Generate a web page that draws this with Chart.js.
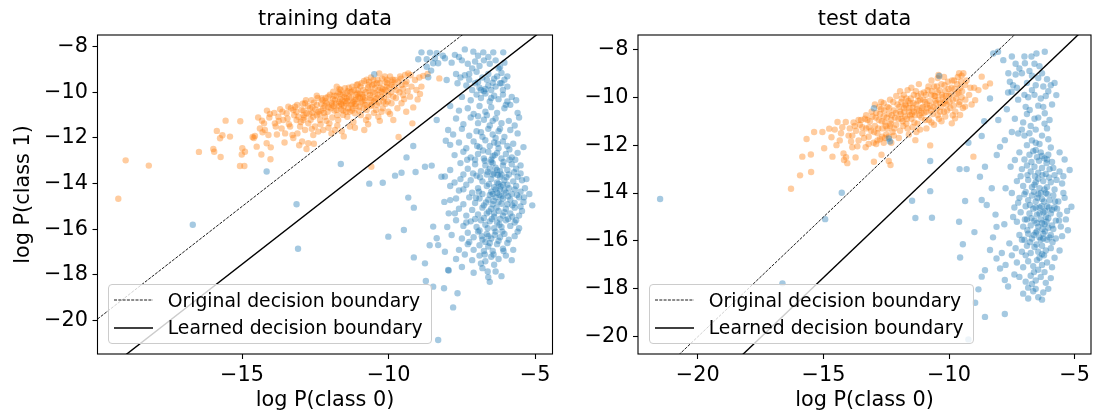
<!DOCTYPE html>
<html>
<head>
<meta charset="utf-8">
<title>decision boundary</title>
<script src="https://cdn.jsdelivr.net/npm/chart.js"></script>
<style>
  body { margin: 0; background: #fff; }
  #wrap { position: relative; width: 1095px; height: 417px; overflow: hidden; font-family: "DejaVu Sans", sans-serif; }
  canvas { position: absolute; top: 0; }
  #trainCanvas { left: 0; }
  #testCanvas { left: 560px; }
  .legend { position: absolute; box-sizing: border-box; border: 1px solid #cccccc; border-radius: 4px;
            background: rgba(255,255,255,0.8); font-size: 18.8px; color: #000; }
  .legend .row { position: absolute; left: 0; height: 24px; display: flex; align-items: center; white-space: nowrap; }
  .legend svg { margin-left: 5px; margin-right: 14.7px; }
</style>
</head>
<body>
<div id="wrap">
  <canvas id="trainCanvas" width="560" height="417"></canvas>
  <canvas id="testCanvas" width="535" height="417"></canvas>
  <div class="legend" id="trainLegend" style="left:108px; top:284px; width:324px; height:60px;"></div>
  <div class="legend" id="testLegend" style="left:649px; top:284px; width:325px; height:60px;"></div>
</div>
<script>
// --- data: [log P(class 0), log P(class 1)] ---
const trainClass1 = [
  [-19.22,-14.66],[-18.97,-12.98],[-18.18,-13.21],[-16.47,-12.61],
  [-15.98,-12.48],[-15.95,-12.6],[-15.86,-11.69],[-15.75,-12.01],[-15.73,-12.83],[-15.56,-11.24],[-15.41,-11.94],[-15.67,-11.88],[-15.07,-13.23],[-15.06,-11.27],[-15.01,-12.72],[-14.99,-12.45],
  [-14.92,-13.23],[-14.9,-12.6],[-14.64,-11.96],[-14.56,-11.91],[-14.6,-12.0],[-14.32,-11.24],[-14.25,-11.36],[-14.34,-12.72],[-14.03,-12.93],[-14.05,-10.95],[-14.02,-12.41],[-14.1,-11.87],[-14.22,-11.65],[-14.39,-11.58],[-14.5,-12.38],[-14.16,-12.23],[-14.07,-11.1],
  [-13.81,-11.85],[-13.7,-10.74],[-13.88,-11.36],[-13.76,-11.07],[-13.59,-11.21],[-13.48,-10.92],[-13.36,-11.5],[-13.28,-11.87],[-13.25,-10.77],[-13.14,-11.21],[-13.08,-11.07],[-13.05,-12.32],[-13.19,-10.63],[-13.42,-10.63],[-13.65,-11.58],[-13.53,-11.8],[-13.02,-11.5],[-13.11,-11.8],
  [-12.8,-12.48],[-12.74,-12.23],[-12.91,-11.21],[-12.85,-10.48],[-12.8,-10.92],[-12.74,-11.36],[-12.68,-10.7],[-12.63,-10.34],[-12.57,-11.07],[-12.51,-11.5],[-12.45,-10.55],[-12.4,-10.85],[-12.34,-11.21],[-12.28,-10.26],[-12.23,-10.7],[-12.17,-11.07],[-12.11,-10.48],[-12.06,-10.19],[-12.02,-11.36],[-12.57,-11.87],[-12.4,-11.72],[-12.23,-11.65],[-12.85,-11.65],[-12.97,-10.77],[-12.6,-10.9],[-12.45,-11.0],[-12.3,-10.5],[-12.2,-10.9],[-12.15,-10.4],[-12.9,-10.8],[-12.75,-10.6],
  [-11.89,-9.97],[-11.83,-10.34],[-11.77,-10.77],[-11.72,-11.21],[-11.66,-10.09],[-11.6,-10.55],[-11.55,-10.99],[-11.49,-9.82],[-11.43,-10.26],[-11.38,-10.7],[-11.32,-11.5],[-11.26,-9.97],[-11.2,-10.41],[-11.15,-10.92],[-11.09,-9.68],[-11.03,-10.19],[-11.0,-10.63],[-11.83,-11.65],[-11.53,-11.93],[-11.94,-10.55],[-11.69,-10.41],[-11.57,-10.09],[-11.45,-10.48],[-11.35,-10.19],[-11.24,-9.75],[-11.11,-10.12],[-11.41,-11.07],[-11.64,-9.9],[-11.77,-9.75],[-11.9,-10.3],[-11.7,-10.6],[-11.5,-10.2],[-11.3,-10.0],[-11.1,-10.3],[-11.45,-10.85],[-11.25,-10.5],[-11.65,-10.3],[-11.85,-10.8],[-11.05,-9.9],
  [-10.83,-11.65],[-10.92,-9.6],[-10.86,-9.9],[-10.81,-10.34],[-10.75,-10.77],[-10.69,-9.68],[-10.64,-10.12],[-10.58,-10.55],[-10.52,-9.46],[-10.47,-9.82],[-10.41,-10.26],[-10.35,-11.07],[-10.3,-9.6],[-10.24,-9.97],[-10.18,-10.41],[-10.13,-9.31],[-10.07,-9.75],[-10.01,-10.12],[-10.59,-13.26],[-10.77,-11.21],[-10.43,-10.77],[-10.2,-10.7],[-10.69,-11.07],[-10.98,-10.26],[-10.32,-9.17],[-10.24,-10.85],[-10.01,-10.85],[-10.9,-10.1],[-10.7,-9.8],[-10.55,-10.0],[-10.4,-9.6],[-10.25,-10.2],[-10.1,-9.55],[-10.6,-10.35],[-10.8,-10.55],[-10.35,-9.9],[-10.15,-10.0],
  [-9.95,-9.31],[-9.9,-9.68],[-9.84,-10.19],[-9.78,-9.46],[-9.73,-9.9],[-9.66,-11.96],[-9.84,-11.21],[-9.61,-9.31],[-9.56,-9.68],[-9.5,-10.12],[-9.44,-9.24],[-9.39,-9.53],[-9.27,-10.19],[-9.19,-11.36],[-9.16,-10.66],[-9.1,-9.46],[-9.01,-10.31],[-9.33,-9.17],[-9.22,-9.75],[-9.7,-10.7],[-9.56,-10.48],[-9.9,-10.48],
  [-8.82,-9.28],[-8.67,-9.2],[-8.27,-9.39],[-8.88,-9.75],[-8.93,-10.07],
  [-13.9,-10.9],[-13.75,-11.25],[-13.62,-10.85],[-13.45,-11.15],[-13.33,-10.7],[-13.22,-11.0],[-13.12,-10.55],[-13.0,-11.3],[-12.93,-10.5],[-12.88,-11.1],[-12.82,-10.35],[-12.7,-10.95],[-12.66,-11.2],[-12.55,-10.45],[-12.5,-10.75],[-12.42,-10.25],[-12.36,-10.95],[-12.32,-11.4],[-12.25,-10.35],[-12.18,-10.6],[-12.12,-11.25],[-12.08,-10.85],[-12.0,-10.1],[-11.97,-10.7],[-11.92,-11.1],[-11.86,-10.15],[-11.8,-10.5],[-11.75,-11.0],[-11.68,-9.85],[-11.62,-10.75],[-11.58,-10.35],[-11.52,-10.6],[-11.47,-10.05],[-11.4,-10.4],[-11.36,-9.8],[-11.33,-10.85],[-11.28,-10.25],[-11.22,-10.7],[-11.18,-9.9],[-11.13,-10.5],[-11.07,-10.05],[-11.02,-10.8],[-10.96,-9.75],[-10.94,-10.45],[-10.88,-10.2],[-10.84,-9.5],[-10.78,-10.0],[-10.73,-10.55],[-10.67,-9.55],[-10.62,-10.25],[-10.56,-9.7],[-10.5,-10.4],[-10.46,-10.05],[-10.38,-9.45],[-10.33,-10.45],[-10.28,-9.8],[-10.22,-9.4],[-10.16,-10.25],[-10.11,-9.9],[-10.05,-9.45],[-10.03,-10.4],[-9.98,-9.8],[-9.92,-10.0],[-9.86,-9.45],[-9.8,-9.75],[-9.75,-10.25],[-9.68,-9.55],[-9.63,-10.0],[-9.58,-9.4],[-9.52,-9.85],[-9.47,-10.3],[-9.42,-9.65],[-9.35,-9.95],[-12.62,-11.6],[-12.05,-11.55],[-11.75,-11.45],[-11.2,-11.3],[-10.95,-11.0],[-10.5,-10.9],[-13.4,-11.4],[-13.85,-11.5],[-14.3,-11.75],[-14.45,-11.1],[-14.15,-10.8],[-13.55,-12.2],[-13.25,-12.0],[-12.95,-12.15],[-12.55,-12.25],[-11.95,-11.8],[-11.6,-11.7],[-11.15,-11.55],[-10.7,-11.4],[-10.3,-11.25],[-9.95,-10.95],[-9.4,-10.85],[-9.05,-9.9],[-8.95,-9.35],[-9.25,-9.25],
  [-12.45,-10.15],[-12.15,-10.25],[-11.95,-10.45],[-11.78,-10.15],[-11.62,-10.5],[-11.48,-10.38],[-11.3,-10.55],[-11.16,-10.35],[-10.98,-10.05],[-10.8,-10.25],[-10.66,-9.95],[-10.5,-9.65],[-10.36,-10.1],[-10.2,-9.85],[-10.05,-9.6],[-9.88,-9.55],[-11.88,-10.6],[-11.55,-10.8],[-11.12,-10.6],[-10.9,-10.4],[-10.6,-10.6],[-10.45,-10.3],[-12.3,-10.8],[-12.6,-10.65],[-12.9,-11.0],[-13.15,-10.85],[-11.4,-9.95],[-11.05,-9.65],[-10.75,-9.45],[-10.6,-9.35],[-11.7,-10.0],[-12.05,-10.65],[-11.25,-10.8],[-10.85,-10.7],[-10.4,-10.55],[-10.1,-10.5]
];

const trainClass0 = [
  [-10.49,-9.21],[-14.16,-13.47],[-13.14,-14.9],[-11.63,-13.14],[-16.68,-15.8],[-13.09,-16.85],[-10.66,-14.0],[-10.2,-13.96],[-10.01,-16.32],[-9.48,-16.03],[-9.78,-13.65],[-9.56,-13.52],[-9.39,-12.85],[-9.16,-12.35],[-9.08,-13.49],[-8.76,-13.26],[-8.53,-13.21],[-9.33,-14.61],[-9.14,-15.05],[-9.14,-17.23],[-8.76,-17.49],[-8.73,-18.26],[-8.48,-18.51],[-8.31,-20.85],[-8.11,-18.58],[-7.8,-19.42],[-7.65,-18.8],[-8.36,-11.21],[-8.65,-9.34],
  [-8.48,-15.88],[-8.36,-16.39],[-8.31,-16.69],[-8.08,-16.98],[-7.97,-17.78],[-7.9,-14.72],[-7.74,-15.3],[-8.08,-13.69],[-8.05,-12.12],[-7.97,-11.65],[-8.2,-13.7],[-8.1,-14.8],[-7.95,-15.3],[-8.0,-15.9],[-7.85,-16.25],[-8.6,-16.7],[-7.95,-17.8],
  [-8.88,-8.25],[-8.59,-8.26],[-8.36,-8.29],[-7.74,-8.36],[-7.4,-8.12],[-7.11,-8.22],[-6.77,-8.25],[-6.43,-8.25],[-6.09,-8.25],[-8.15,-8.4],[-7.6,-8.45],[-6.95,-8.4],[-6.6,-8.45],
  [-8.99,-8.55],[-8.7,-8.55],[-8.42,-8.51],[-8.08,-8.51],[-8.48,-8.73],[-8.31,-8.73],[-8.7,-8.88],[-7.85,-8.7],[-7.5,-8.6],[-7.3,-8.75],[-7.05,-8.65],[-6.9,-8.85],[-6.75,-8.6],[-6.55,-8.75],[-6.35,-8.6],[-6.2,-8.9],[-6.05,-8.7],[-7.15,-8.95],
  [-8.55,-9.05],[-8.02,-9.46],[-7.7,-9.2],[-7.55,-9.35],[-7.4,-9.25],[-7.25,-9.45],[-7.0,-9.1],[-6.8,-9.35],[-6.6,-9.2],[-6.4,-9.4],[-6.3,-9.3],[-6.15,-9.15],[-6.05,-9.45],[-5.95,-9.3],
  [-7.65,-9.6],[-7.35,-9.7],[-7.15,-9.9],[-7.05,-9.6],[-6.9,-9.8],[-6.75,-9.95],[-6.6,-9.7],[-6.5,-9.9],[-6.35,-9.75],[-6.2,-9.6],[-6.1,-9.9],[-5.95,-9.75],[-6.85,-9.9],[-6.7,-9.85],
  [-7.5,-10.2],[-7.2,-10.35],[-7.0,-10.1],[-6.85,-10.25],[-6.7,-10.05],[-6.55,-10.4],[-6.4,-10.15],[-6.25,-10.3],[-6.1,-10.1],[-5.95,-10.4],[-5.8,-10.2],[-5.65,-10.35],
  [-7.9,-10.6],[-7.6,-10.8],[-7.3,-10.7],[-7.1,-10.95],[-6.9,-10.6],[-6.7,-10.85],[-6.5,-10.65],[-6.3,-10.9],[-6.05,-10.7],[-5.85,-10.55],[-5.6,-10.9],
  [-7.7,-11.15],[-7.45,-11.4],[-7.2,-11.1],[-6.95,-11.35],[-6.75,-11.2],[-6.55,-11.45],[-6.35,-11.15],[-6.15,-11.35],[-5.9,-11.25],[-5.7,-11.45],[-5.55,-11.1],
  [-7.8,-11.85],[-7.5,-11.6],[-7.25,-11.9],[-7.0,-11.7],[-6.8,-11.95],[-6.6,-11.6],[-6.45,-11.85],[-6.25,-11.7],[-6.05,-11.95],[-5.85,-11.65],[-5.6,-11.8],
  [-7.9,-12.3],[-7.6,-12.2],[-7.35,-12.45],[-7.1,-12.15],[-6.9,-12.4],[-6.7,-12.1],[-6.55,-12.35],[-6.4,-12.2],[-6.25,-12.45],[-6.1,-12.15],[-5.95,-12.35],[-5.75,-12.25],[-5.4,-12.4],
  [-7.75,-12.75],[-7.45,-12.6],[-7.2,-12.85],[-6.95,-12.7],[-6.75,-12.9],[-6.6,-12.6],[-6.45,-12.8],[-6.3,-12.65],[-6.15,-12.9],[-6.0,-12.7],[-5.8,-12.85],[-5.6,-12.65],
  [-7.9,-13.4],[-7.55,-13.1],[-7.3,-13.35],[-7.05,-13.15],[-6.85,-13.45],[-6.7,-13.2],[-6.55,-13.35],[-6.45,-13.1],[-6.35,-13.3],[-6.2,-13.45],[-6.1,-13.2],[-5.95,-13.4],[-5.8,-13.15],[-5.65,-13.35],[-5.5,-13.2],
  [-7.75,-13.95],[-7.45,-13.6],[-7.2,-13.85],[-7.0,-13.65],[-6.8,-13.9],[-6.65,-13.6],[-6.5,-13.8],[-6.4,-13.55],[-6.3,-13.95],[-6.2,-13.7],[-6.05,-13.85],[-5.9,-13.6],[-5.75,-13.9],[-5.6,-13.7],[-5.45,-13.85],[-5.3,-13.8],
  [-7.9,-14.1],[-7.6,-14.3],[-7.35,-14.05],[-7.15,-14.4],[-6.95,-14.2],[-6.8,-14.45],[-6.65,-14.1],[-6.5,-14.35],[-6.4,-14.15],[-6.3,-14.4],[-6.2,-14.25],[-6.1,-14.05],[-6.0,-14.4],[-5.9,-14.2],[-5.8,-14.45],[-5.65,-14.1],[-5.5,-14.35],[-5.35,-14.2],[-5.2,-14.45],
  [-7.7,-14.65],[-7.45,-14.9],[-7.25,-14.6],[-7.05,-14.85],[-6.9,-14.65],[-6.75,-14.95],[-6.6,-14.7],[-6.45,-14.9],[-6.35,-14.6],[-6.25,-14.8],[-6.1,-14.65],[-5.95,-14.9],[-5.85,-14.7],[-5.7,-14.85],[-5.55,-14.6],[-5.4,-14.8],[-5.1,-14.95],
  [-7.6,-15.1],[-7.35,-15.4],[-7.15,-15.15],[-6.95,-15.35],[-6.8,-15.05],[-6.65,-15.3],[-6.5,-15.1],[-6.4,-15.45],[-6.25,-15.2],[-6.1,-15.4],[-6.0,-15.1],[-5.85,-15.3],[-5.7,-15.05],[-5.55,-15.4],[-5.45,-15.2],
  [-7.7,-15.6],[-7.45,-15.85],[-7.2,-15.65],[-7.0,-15.9],[-6.85,-15.6],[-6.7,-15.8],[-6.55,-15.65],[-6.4,-15.95],[-6.3,-15.7],[-6.15,-15.9],[-6.0,-15.6],[-5.85,-15.85],[-5.7,-15.7],[-5.55,-15.95],
  [-7.5,-16.4],[-7.3,-16.15],[-7.1,-16.35],[-6.95,-16.1],[-6.8,-16.45],[-6.65,-16.2],[-6.5,-16.4],[-6.35,-16.1],[-6.2,-16.35],[-6.05,-16.2],[-5.9,-16.45],[-5.7,-16.3],
  [-7.6,-16.9],[-7.3,-16.65],[-7.1,-16.9],[-6.9,-16.7],[-6.75,-16.95],[-6.6,-16.75],[-6.45,-16.95],[-6.3,-16.65],[-6.1,-16.85],[-5.95,-16.6],[-5.75,-16.9],
  [-7.7,-17.3],[-7.4,-17.1],[-7.15,-17.35],[-6.9,-17.15],[-6.7,-17.4],[-6.5,-17.2],[-6.25,-17.3],[-6.0,-17.15],[-5.8,-17.35],
  [-7.5,-17.65],[-7.1,-17.9],[-6.8,-17.7],[-6.6,-18.1],[-6.35,-17.85],[-6.15,-18.05],[-6.55,-18.3],
  [-6.45,-13.6],[-6.25,-14.0],[-6.15,-14.55],[-6.35,-14.25],[-6.55,-14.5],[-6.05,-14.3],[-6.3,-13.4],[-6.5,-13.05],[-6.7,-16.55],[-6.6,-16.3],[-6.4,-15.3],[-6.2,-15.55],[-6.5,-12.95],[-6.15,-13.6],
  [-6.72,-13.0],[-6.38,-12.75],[-6.08,-13.05],[-5.88,-12.95],[-6.62,-13.48],[-6.28,-13.62],[-5.98,-13.72],[-5.72,-13.5],[-6.88,-13.72],[-6.58,-14.02],[-6.18,-14.12],[-5.95,-14.05],[-5.7,-14.25],[-6.92,-14.35],[-6.45,-14.45],[-6.22,-14.5],[-5.92,-14.55],[-5.62,-14.5],[-6.68,-14.82],[-6.42,-14.75],[-6.15,-14.88],[-5.78,-14.95],[-6.58,-15.22],[-6.32,-15.05],[-6.05,-15.25],[-5.78,-15.45],[-6.75,-15.5],[-6.48,-15.55],[-6.22,-15.8],[-5.92,-15.55],[-6.62,-15.95],[-6.38,-16.25],[-6.12,-16.1],[-6.82,-16.3],[-6.55,-16.6],[-6.25,-16.5],[-6.9,-16.05],[-6.72,-17.1],[-6.42,-17.1],[-6.08,-16.95],[-7.02,-14.62],[-7.12,-13.55],[-7.32,-12.95],[-6.98,-12.35],[-6.78,-12.55],[-6.28,-12.25],[-5.88,-12.5],[-5.68,-12.95],[-5.5,-13.55],[-5.38,-14.6],[-5.5,-15.0],[-5.65,-15.6],[-5.6,-16.1],[-7.45,-14.25],[-7.55,-13.8],[-7.35,-15.7],[-7.25,-16.55],[-7.05,-15.55],[-6.85,-17.5],[-6.4,-17.55],[-6.62,-17.85],[-6.95,-11.05],[-6.65,-11.0],[-6.45,-11.25],[-6.2,-11.6],[-6.35,-12.0],[-6.85,-11.75],[-7.05,-12.95],[-6.15,-9.6],[-6.45,-9.58],[-6.65,-9.45],[-6.95,-9.55],[-7.25,-9.2],[-6.25,-8.95],[-6.5,-10.25],[-6.0,-10.55]
];

const testClass1 = [
  [-16.29,-13.82],[-15.93,-13.26],[-15.49,-13.12],[-15.84,-12.48],[-15.5,-12.39],[-15.67,-11.74],[-15.37,-11.45],[-15.04,-11.45],[-14.77,-11.31],[-14.68,-11.67],[-14.97,-12.13],[-14.64,-12.48],[-14.48,-12.0],[-14.44,-11.03],[-14.11,-11.03],[-14.18,-12.62],[-14.1,-12.5],[-14.05,-12.75],[-13.85,-12.09],[-13.72,-12.51],[-13.32,-12.09],[-12.99,-12.69],[-12.69,-12.4],[-12.4,-12.66],[-12.33,-12.83],[-12.66,-11.65],[-12.4,-11.65],[-10.75,-12.01],[-9.03,-12.48],[-11.34,-11.79],[-14.2,-12.35],[-14.3,-11.5],[-14.55,-11.35],[-14.35,-11.8],
  [-9.36,-9.49],[-8.83,-9.7],[-8.7,-9.14],[-8.37,-9.42],[-8.96,-10.12],[-9.36,-10.39],[-9.56,-10.74],[-9.89,-11.09],[-9.76,-10.88],[-9.2,-9.9],[-9.0,-9.6],
  [-13.95,-11.3],[-13.85,-11.6],[-13.8,-11.05],[-13.7,-11.4],[-13.6,-11.8],[-13.55,-11.15],[-13.45,-11.5],[-13.35,-10.9],[-13.3,-11.3],[-13.2,-11.65],[-13.15,-11.0],[-13.1,-11.4],[-13.05,-10.8],[-13.0,-11.9],[-13.9,-11.85],[-13.5,-10.95],
  [-12.95,-11.2],[-12.9,-10.65],[-12.85,-11.5],[-12.8,-10.95],[-12.75,-11.75],[-12.7,-10.5],[-12.65,-11.3],[-12.6,-10.8],[-12.55,-11.05],[-12.5,-11.55],[-12.45,-10.4],[-12.4,-10.7],[-12.35,-11.2],[-12.3,-10.95],[-12.25,-11.45],[-12.2,-10.55],[-12.15,-10.85],[-12.1,-11.15],[-12.05,-10.3],[-12.0,-11.7],[-12.9,-11.95],[-12.6,-11.9],[-12.3,-11.9],[-12.75,-10.7],[-12.45,-11.3],[-12.1,-9.95],[-12.35,-10.1],[-11.95,-9.75],[-12.7,-10.2],[-11.65,-9.7],
  [-11.95,-10.6],[-11.9,-10.2],[-11.85,-11.0],[-11.8,-10.45],[-11.75,-10.8],[-11.7,-10.05],[-11.65,-11.3],[-11.6,-10.6],[-11.55,-10.25],[-11.5,-10.9],[-11.45,-10.45],[-11.4,-9.9],[-11.35,-10.75],[-11.3,-10.3],[-11.25,-11.1],[-11.2,-10.55],[-11.15,-10.1],[-11.1,-10.85],[-11.05,-10.4],[-11.0,-9.8],[-11.95,-11.4],[-11.6,-11.55],[-11.3,-11.45],[-11.9,-10.9],[-11.4,-10.6],[-11.75,-10.3],[-11.1,-10.65],[-11.55,-10.75],[-11.25,-9.95],[-11.8,-9.9],[-11.5,-9.6],[-11.2,-9.45],
  [-10.95,-10.2],[-10.9,-10.6],[-10.85,-9.7],[-10.8,-10.95],[-10.75,-10.35],[-10.7,-9.9],[-10.65,-10.7],[-10.6,-9.55],[-10.55,-10.15],[-10.5,-10.5],[-10.45,-9.8],[-10.4,-10.9],[-10.35,-10.25],[-10.3,-9.45],[-10.25,-10.0],[-10.2,-10.6],[-10.15,-9.75],[-10.1,-10.3],[-10.05,-9.35],[-10.0,-9.95],[-10.9,-11.3],[-10.6,-11.15],[-10.3,-11.0],[-10.7,-9.3],[-10.45,-9.2],[-10.2,-9.15],[-10.85,-10.45],[-10.55,-9.95],[-10.35,-10.6],[-10.15,-10.15],
  [-9.95,-10.45],[-9.9,-9.6],[-9.85,-10.1],[-9.8,-9.3],[-9.75,-10.6],[-9.7,-9.85],[-9.65,-9.15],[-9.6,-10.3],[-9.55,-9.6],[-9.5,-10.0],[-9.5,-9.1],[-9.45,-10.45],[-9.6,-9.0],[-10.42,-9.07],[-9.43,-9.0],
  [-13.75,-11.2],[-13.6,-10.95],[-13.45,-11.25],[-13.38,-11.7],[-13.25,-10.95],[-13.18,-11.25],[-13.08,-10.6],[-12.98,-11.45],[-12.92,-10.85],[-12.82,-11.3],[-12.78,-10.4],[-12.68,-11.0],[-12.58,-10.55],[-12.52,-11.2],[-12.48,-10.85],[-12.38,-10.45],[-12.32,-11.1],[-12.28,-10.75],[-12.22,-10.2],[-12.18,-11.3],[-12.12,-10.65],[-12.02,-10.9],[-11.98,-10.4],[-11.92,-10.7],[-11.88,-10.05],[-11.82,-11.2],[-11.78,-10.6],[-11.72,-10.35],[-11.68,-10.9],[-11.62,-10.15],[-11.58,-10.45],[-11.52,-10.05],[-11.48,-10.7],[-11.42,-10.25],[-11.38,-11.05],[-11.32,-9.75],[-11.28,-10.5],[-11.22,-10.15],[-11.18,-10.75],[-11.12,-9.85],[-11.08,-10.45],[-11.02,-10.1],[-10.98,-10.65],[-10.92,-9.9],[-10.88,-10.3],[-10.82,-9.55],[-10.78,-10.15],[-10.72,-10.55],[-10.68,-9.75],[-10.62,-10.4],[-10.58,-9.95],[-10.52,-10.25],[-10.48,-9.55],[-10.42,-10.1],[-10.38,-9.7],[-10.32,-10.4],[-10.28,-9.9],[-10.22,-10.25],[-10.18,-9.5],[-10.12,-9.95],[-10.08,-10.55],[-10.02,-9.65],[-9.98,-10.2],[-9.92,-9.85],[-9.88,-9.3],[-9.82,-10.35],[-9.78,-9.65],[-9.72,-10.05],[-9.68,-9.45],[-9.62,-9.8],[-9.58,-10.2],[-9.52,-9.35],[-9.48,-9.75],[-11.7,-11.1],[-11.45,-11.25],[-11.15,-11.35],[-10.95,-10.95],[-10.7,-11.05],[-10.45,-10.75],[-10.15,-10.8],[-9.85,-10.75],[-12.2,-11.6],[-12.55,-11.7],[-12.85,-11.8],[-13.2,-11.95],[-13.65,-12.05],[-14.0,-11.6],[-14.25,-11.25],[-13.3,-10.75],[-12.95,-10.3],[-12.6,-10.25],[-9.3,-9.3],[-9.15,-9.6],[-9.1,-10.3],[-9.35,-10.1],[-8.55,-9.55]
];

const testClass0 = [
  [-21.5,-14.25],[-14.27,-13.99],[-14.93,-15.09],[-16.63,-17.77],[-9.23,-20.11],[-11.47,-14.32],[-11.34,-15.04],[-10.75,-13.92],[-10.68,-15.03],[-10.75,-12.66],[-9.58,-13.0],[-9.3,-13.0],[-9.36,-14.33],[-9.6,-15.2],[-8.99,-15.63],[-9.45,-16.14],[-9.56,-16.69],[-9.23,-11.9],[-8.7,-11.62],[-12.4,-11.72],[-12.35,-11.85],[-12.99,-10.46],[-10.39,-9.11],[-8.57,-19.17],[-7.78,-19.05],[-8.96,-18.58],[-8.83,-18.02],[-8.37,-10.05],
  [-8.57,-12.9],[-8.77,-13.32],[-8.7,-14.29],[-8.5,-14.5],[-8.3,-13.8],[-8.15,-14.9],[-8.11,-15.41],[-8.25,-15.85],[-8.37,-16.38],[-8.11,-16.73],[-7.9,-16.5],[-7.97,-17.15],[-7.75,-17.0],[-7.78,-17.63],[-7.65,-17.9],[-8.57,-17.22],[-8.7,-17.49],[-8.04,-10.95],[-7.97,-12.07],[-8.1,-12.41],[-7.78,-11.79],[-8.6,-11.0],
  [-8.24,-8.17],[-8.05,-8.1],[-7.84,-8.45],[-7.5,-8.3],[-7.35,-8.6],[-6.98,-8.58],[-6.72,-8.3],[-6.52,-8.17],[-6.19,-8.1],[-7.2,-8.8],[-6.8,-8.9],[-6.4,-8.7],[-7.64,-9.0],[-7.58,-9.35],[-7.51,-9.77],[-7.3,-9.6],[-7.1,-9.0],[-6.7,-9.1],[-6.45,-9.2],[-6.3,-9.0],[-6.1,-9.25],[-5.95,-9.5],[-6.05,-9.75],[-7.0,-9.9],[-6.85,-10.0],[-6.6,-9.9],[-6.35,-10.05],[-6.15,-9.95],[-5.73,-9.91],[-5.8,-9.4],[-6.55,-9.5],[-7.25,-10.1],
  [-6.79,-10.53],[-6.19,-10.67],[-7.38,-10.9],[-6.0,-10.95],[-6.1,-11.3],[-6.3,-11.6],[-6.05,-11.75],[-7.25,-11.51],[-7.0,-11.6],[-6.8,-11.5],[-6.55,-11.35],[-7.5,-11.45],[-6.45,-10.85],[-6.25,-10.4],[-7.38,-12.62],[-7.2,-12.3],[-6.9,-12.0],[-6.7,-11.8],[-6.4,-11.95],[-5.95,-12.1],[-5.6,-12.3],[-5.4,-12.6],[-5.2,-13.04],
  [-7.0,-12.6],[-6.8,-12.4],[-6.65,-12.25],[-6.5,-12.5],[-6.35,-12.3],[-6.2,-12.55],[-6.05,-12.4],[-5.9,-12.7],
  [-7.1,-13.0],[-6.9,-12.85],[-6.75,-13.1],[-6.6,-12.9],[-6.45,-13.15],[-6.3,-12.95],[-6.15,-13.2],[-6.0,-13.0],[-5.8,-13.25],[-5.6,-13.1],
  [-7.3,-13.5],[-7.05,-13.7],[-6.85,-13.45],[-6.7,-13.75],[-6.55,-13.55],[-6.4,-13.8],[-6.25,-13.5],[-6.1,-13.75],[-5.95,-13.55],[-5.8,-13.85],[-5.5,-13.6],
  [-7.5,-14.0],[-7.2,-14.2],[-7.0,-14.05],[-6.85,-14.3],[-6.7,-14.1],[-6.55,-14.35],[-6.45,-14.05],[-6.3,-14.25],[-6.15,-14.0],[-6.0,-14.3],[-5.85,-14.1],[-5.65,-14.35],[-5.4,-14.2],
  [-7.4,-14.6],[-7.15,-14.8],[-6.95,-14.55],[-6.8,-14.85],[-6.65,-14.65],[-6.5,-14.9],[-6.4,-14.6],[-6.25,-14.8],[-6.1,-14.55],[-5.95,-14.85],[-5.8,-14.6],[-5.6,-14.9],[-5.13,-14.57],[-5.3,-14.75],
  [-7.3,-15.2],[-7.05,-15.4],[-6.9,-15.1],[-6.75,-15.35],[-6.6,-15.15],[-6.45,-15.4],[-6.35,-15.1],[-6.2,-15.3],[-6.05,-15.05],[-5.9,-15.35],[-5.75,-15.15],[-5.55,-15.4],[-5.27,-15.55],
  [-7.2,-15.75],[-7.0,-15.95],[-6.85,-15.7],[-6.7,-15.9],[-6.55,-15.65],[-6.4,-15.85],[-6.25,-15.7],[-6.1,-15.95],[-5.95,-15.75],[-5.75,-15.9],[-5.5,-15.8],
  [-7.35,-16.3],[-7.1,-16.45],[-6.9,-16.2],[-6.75,-16.5],[-6.6,-16.25],[-6.45,-16.45],[-6.3,-16.2],[-6.15,-16.4],[-5.95,-16.3],
  [-7.3,-16.9],[-7.05,-17.1],[-6.85,-16.85],[-6.65,-17.05],[-6.5,-16.8],[-6.3,-17.0],[-6.1,-16.9],[-5.9,-17.1],
  [-7.2,-17.5],[-6.95,-17.7],[-6.75,-17.45],[-6.55,-17.65],[-6.35,-17.5],[-6.15,-17.75],[-5.95,-17.55],
  [-7.05,-18.2],[-6.85,-18.4],[-6.65,-18.1],[-6.45,-18.35],[-6.25,-18.15],[-6.05,-18.0],
  [-6.72,-12.7],[-6.42,-12.65],[-6.12,-12.75],[-5.85,-12.95],[-6.88,-13.25],[-6.58,-13.3],[-6.28,-13.25],[-6.02,-13.35],[-5.72,-13.45],[-6.95,-13.95],[-6.62,-13.95],[-6.35,-14.0],[-6.08,-14.05],[-5.78,-14.35],[-6.78,-14.5],[-6.55,-14.6],[-6.32,-14.55],[-6.18,-14.75],[-5.9,-14.7],[-5.7,-14.65],[-6.98,-15.1],[-6.72,-15.05],[-6.52,-15.25],[-6.28,-15.5],[-6.12,-15.2],[-5.85,-15.5],[-5.62,-15.15],[-6.88,-15.55],[-6.62,-15.75],[-6.35,-15.95],[-6.18,-15.6],[-5.88,-16.05],[-6.78,-16.05],[-6.52,-16.15],[-6.22,-16.6],[-6.95,-16.6],[-6.4,-16.7],[-6.62,-17.3],[-6.2,-17.3],[-7.15,-13.3],[-7.25,-14.4],[-7.45,-15.0],[-7.1,-15.95],[-7.5,-16.6],[-5.45,-14.0],[-5.35,-15.1],[-5.6,-16.4],[-5.45,-13.3],[-6.55,-11.9],[-6.2,-11.1],[-6.75,-11.2],[-7.05,-11.05],[-6.95,-10.4],[-6.45,-10.35],[-6.7,-9.7],[-6.9,-9.4],[-7.35,-9.05],[-6.25,-9.55],[-5.9,-10.3],[-7.7,-10.5],[-6.85,-17.95],[-6.55,-18.0],[-6.3,-18.45],[-7.4,-17.4],[-5.8,-16.7],[-7.55,-12.9],[-7.75,-13.8],[-7.8,-15.3],[-7.6,-16.1],
  [-6.48,-14.2],[-6.22,-14.35],[-6.02,-14.6],[-6.4,-14.85],[-6.15,-15.0],[-6.3,-15.25],[-6.05,-15.45],[-6.5,-15.6],[-6.25,-15.9],[-6.0,-15.85],[-6.6,-13.65],[-6.2,-13.85],[-6.45,-13.4],[-6.1,-12.6],[-6.3,-12.45],[-6.55,-12.2],[-7.45,-9.5],[-7.65,-9.8],[-7.0,-8.3],[-6.6,-8.6],[-6.9,-10.7],[-6.6,-10.9],[-7.1,-11.35],[-6.3,-16.55],[-6.45,-17.2],[-6.7,-17.8]
];

// axis limits and ticks
const trainXRange = [-19.93, -4.41];
const trainYRange = [-21.46, -7.49];
const testXRange = [-22.38, -4.35];
const testYRange = [-20.72, -7.40];
const trainXTicks = [-15, -10, -5];
const testXTicks = [-20, -15, -10, -5];
const yTicks = [-8, -10, -12, -14, -16, -18, -20];

// decision boundaries y = slope * x + intercept
const originalBoundary = { slope: 1, intercept: 0 };
const learnedBoundary = { slope: 1, intercept: -2.53 };

const FONT = "'DejaVu Sans', sans-serif";
const FONT_SIZE = 20.8;
Chart.defaults.font.family = FONT;
Chart.defaults.color = '#000';

const toPoints = pairs => pairs.map(p => ({ x: p[0], y: p[1] }));
const lineEnds = (b, xRange) => xRange.map(x => ({ x: x, y: b.slope * x + b.intercept }));
const fmt = v => (v < 0 ? '\u2212' + Math.abs(v) : String(v));

// cadre complet autour de la zone de tracé
const framePlugin = {
  id: 'frame',
  afterDatasetsDraw(chart) {
    const { ctx, chartArea: a } = chart;
    ctx.save();
    ctx.strokeStyle = '#000';
    ctx.lineWidth = 1.1;
    ctx.strokeRect(a.left, a.top, a.right - a.left, a.bottom - a.top);
    ctx.restore();
  }
};

function axis(range, ticks, title, size) {
  const horizontal = size.height !== undefined;
  return {
    type: 'linear',
    min: range[0],
    max: range[1],
    afterBuildTicks: s => { s.ticks = ticks.map(v => ({ value: v })); },
    afterFit: s => {
      if (horizontal) { s.height = size.height; s.paddingLeft = 0; s.paddingRight = 0; }
      else { s.width = size.width; s.paddingTop = 0; s.paddingBottom = 0; }
    },
    ticks: { font: { size: FONT_SIZE }, color: '#000', padding: horizontal ? 4.2 : 4.5, callback: fmt, autoSkip: false, maxRotation: 0 },
    grid: { display: true, drawOnChartArea: false, drawTicks: true, tickLength: 5, tickWidth: 1.1, tickColor: '#000', color: '#000' },
    border: { display: false },
    title: title
      ? { display: true, text: title, font: { size: FONT_SIZE }, color: '#000',
          padding: horizontal ? { top: 0, bottom: 3.8 } : { top: 11.2, bottom: 0 } }
      : { display: false }
  };
}

function makeChart(canvasId, opts) {
  const ctx = document.getElementById(canvasId).getContext('2d');
  return new Chart(ctx, {
    type: 'scatter',
    data: {
      datasets: [
        { label: 'Original decision boundary', data: lineEnds(originalBoundary, opts.xRange), showLine: true,
          borderColor: '#000', borderWidth: 0.9, borderDash: [3, 1.3], pointRadius: 0, order: 0 },
        { label: 'Learned decision boundary', data: lineEnds(learnedBoundary, opts.xRange), showLine: true,
          borderColor: '#000', borderWidth: 1.4, pointRadius: 0, order: 1 },
        { label: 'class 0', data: toPoints(opts.class0), backgroundColor: 'rgba(31,119,180,0.4)',
          borderWidth: 0, pointRadius: 3.2, order: 2 },
        { label: 'class 1', data: toPoints(opts.class1), backgroundColor: 'rgba(255,127,14,0.4)',
          borderWidth: 0, pointRadius: 3.2, order: 3 }
      ]
    },
    options: {
      responsive: false,
      devicePixelRatio: 1,
      animation: false,
      events: [],
      layout: { padding: { left: 0, right: opts.padRight, top: 0, bottom: 0 } },
      plugins: {
        legend: { display: false },
        tooltip: { enabled: false },
        title: { display: true, text: opts.title, fullSize: false, color: '#000',
                 font: { size: FONT_SIZE, weight: 'normal' }, padding: { top: 7.0, bottom: 3.04 } }
      },
      scales: {
        x: axis(opts.xRange, opts.xTicks, 'log P(class 0)', { height: 63 }),
        y: axis(opts.yRange, yTicks, opts.yTitle, { width: opts.yWidth })
      }
    },
    plugins: [framePlugin]
  });
}

// légende HTML construite à partir des jeux de données "ligne"
function buildLegend(el, chart) {
  const lines = chart.data.datasets.filter(d => d.showLine);
  lines.forEach((d, i) => {
    const row = document.createElement('div');
    row.className = 'row';
    row.style.top = (3.3 + i * 27.4) + 'px';
    const dash = d.borderDash ? d.borderDash.join(' ') : 'none';
    row.innerHTML = '<svg width="39" height="10"><line x1="0" y1="5" x2="39" y2="5" stroke="#000" stroke-width="' +
      d.borderWidth + '" stroke-dasharray="' + dash + '"/></svg><span>' + d.label + '</span>';
    el.appendChild(row);
  });
}

const trainChart = makeChart('trainCanvas', {
  class0: trainClass0, class1: trainClass1, xRange: trainXRange, yRange: trainYRange,
  xTicks: trainXTicks, title: 'training data', yTitle: 'log P(class 1)', yWidth: 97.5, padRight: 7.5
});
const testChart = makeChart('testCanvas', {
  class0: testClass0, class1: testClass1, xRange: testXRange, yRange: testYRange,
  xTicks: testXTicks, title: 'test data', yTitle: null, yWidth: 78, padRight: 2
});
buildLegend(document.getElementById('trainLegend'), trainChart);
buildLegend(document.getElementById('testLegend'), testChart);
</script>
</body>
</html>
